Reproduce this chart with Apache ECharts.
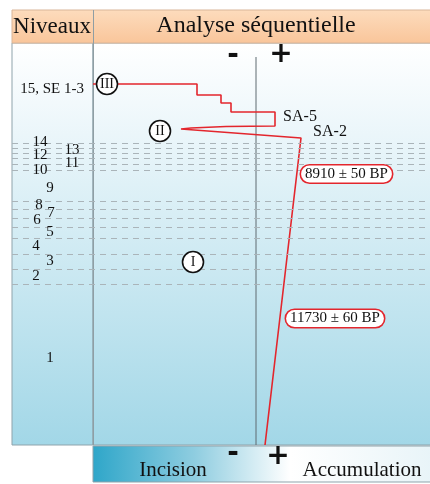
<!DOCTYPE html>
<html>
<head>
<meta charset="utf-8">
<script src="https://cdn.jsdelivr.net/npm/echarts@6/dist/echarts.min.js"></script>
<style>
  html, body { margin: 0; padding: 0; background: #fff; }
  #chart { width: 430px; height: 484px; }
</style>
</head>
<body>
<div id="chart"></div>
<script>
// sequence curve (x: incision - / accumulation +, y: depth, arbitrary units)
const curveX = [-16.3, -5.9, -5.9, -3.5, -3.5, -2.5, -2.5, 1.9, 1.9, -3.0, -6.5, -7.5, 4.5, 0.9]
const curveY = [4.1, 4.1, 5.2, 5.2, 6.0, 6.0, 6.9, 6.9, 8.3, 8.35, 8.5, 8.6, 9.5, 40.2]

// level boundaries (dashed)
const boundaryDepths = [10.0, 10.5, 11.0, 11.5, 12.1, 12.7, 15.8, 16.6, 17.5, 18.4, 19.5, 21.1, 22.6, 24.1]

// level labels
const levelNames = ['15, SE 1-3', '14', '13', '12', '11', '10', '9', '8', '7', '6', '5', '4', '3', '2', '1']
const levelX = [-20.4, -21.6, -18.4, -21.6, -18.4, -21.6, -20.6, -21.7, -20.5, -21.9, -20.6, -22.0, -20.6, -22.0, -20.6]
const levelY = [4.6, 9.9, 10.7, 11.2, 12.0, 12.7, 14.5, 16.2, 17.0, 17.7, 18.9, 20.3, 21.8, 23.3, 31.5]

// phases
const phaseNames = ['III', 'II', 'I']
const phaseX = [-14.9, -9.6, -6.3]
const phaseY = [4.1, 8.8, 21.9]

// sequence boundaries
const saNames = ['SA-5', 'SA-2']
const saX = [4.4, 7.4]
const saY = [7.4, 8.9]

// radiocarbon dates
const dateNames = ['8910 ± 50 BP', '11730 ± 60 BP']
const dateX = [9.05, 7.9]
const dateY = [13.1, 27.55]

const RED = '#e3262d'
const INK = '#111111'
const SERIF = '"Liberation Serif", "DejaVu Serif", serif'
const SIGN = 'bold 28px "DejaVu Sans", sans-serif'

const panelFill = {
  type: 'linear', x: 0, y: 0, x2: 0, y2: 1,
  colorStops: [
    { offset: 0, color: '#ffffff' },
    { offset: 0.15, color: '#f2f9fc' },
    { offset: 1, color: '#a2d7e7' }
  ]
}

const text = (x, y, str, font) => ({
  type: 'text', z: 10, x, y,
  style: { text: str, font, fill: INK, textAlign: 'center', textVerticalAlign: 'middle' }
})

const labelSeries = (name, names, xs, ys, label, extra) => Object.assign({
  name,
  type: 'scatter',
  z: 5,
  symbolSize: 0,
  itemStyle: { opacity: 1 },
  data: names.map((n, i) => ({ value: [xs[i], ys[i]], name: n })),
  label: Object.assign({ show: true, position: 'inside', formatter: '{b}', color: INK, fontFamily: SERIF }, label)
}, extra)

const chart = echarts.init(document.getElementById('chart'))

chart.setOption({
  animation: false,
  grid: { left: 12, right: 0, top: 43, bottom: 39 },
  xAxis: { type: 'value', min: -24.4, max: 17.4, show: false },
  yAxis: { type: 'value', min: 0, max: 40.2, inverse: true, show: false },
  graphic: [
    // panels
    { type: 'rect', z: -10, shape: { x: 12, y: 43, width: 81, height: 402 },
      style: { fill: panelFill, stroke: '#8fa3ab', lineWidth: 1 } },
    { type: 'rect', z: -10, shape: { x: 93, y: 43, width: 340, height: 402 },
      style: { fill: panelFill, stroke: '#8fa3ab', lineWidth: 1 } },
    // header
    { type: 'rect', z: -9, shape: { x: 12, y: 10, width: 420, height: 33 },
      style: {
        fill: { type: 'linear', x: 0, y: 0, x2: 0, y2: 1,
          colorStops: [{ offset: 0, color: '#fddcbd' }, { offset: 1, color: '#f9c59a' }] },
        stroke: '#d9b598', lineWidth: 1
      } },
    { type: 'line', z: -8, shape: { x1: 93.5, y1: 10, x2: 93.5, y2: 445 },
      style: { stroke: '#8f9ea4', lineWidth: 1 } },
    text(52, 27, 'Niveaux', '23px ' + SERIF),
    text(256, 26, 'Analyse séquentielle', '24px ' + SERIF),
    // top - / +
    text(233, 56, '-', SIGN),
    text(281, 55, '+', SIGN),
    // bottom bar
    { type: 'rect', z: -9, shape: { x: 93, y: 446, width: 340, height: 36 },
      style: {
        fill: { type: 'linear', x: 0, y: 0, x2: 1, y2: 0,
          colorStops: [{ offset: 0, color: '#2ea6c9' }, { offset: 0.3, color: '#8fcde0' }, { offset: 0.58, color: '#ffffff' }, { offset: 1, color: '#e8f4f8' }] },
        stroke: '#8fa3ab', lineWidth: 1
      } },
    text(173, 470, 'Incision', '21px ' + SERIF),
    text(362, 470, 'Accumulation', '21px ' + SERIF),
    text(233, 454, '-', SIGN),
    text(278, 457, '+', SIGN)
  ],
  series: [
    {
      name: 'boundaries',
      type: 'line',
      data: [],
      silent: true,
      z: 1,
      markLine: {
        silent: true,
        symbol: ['none', 'none'],
        label: { show: false },
        lineStyle: { color: '#aab4b9', type: [6, 5], width: 1 },
        data: boundaryDepths.map(d => ({ yAxis: d }))
      }
    },
    {
      name: 'axis',
      type: 'line',
      silent: true,
      z: 2,
      showSymbol: false,
      data: [[0, 1.4], [0, 40.2]],
      lineStyle: { color: '#5f6b70', width: 1 }
    },
    {
      name: 'sequence',
      type: 'line',
      z: 3,
      showSymbol: false,
      data: curveX.map((x, i) => [x, curveY[i]]),
      lineStyle: { color: RED, width: 1.6 }
    },
    labelSeries('levels', levelNames, levelX, levelY, { fontSize: 15 }),
    labelSeries('phases', phaseNames, phaseX, phaseY, { fontSize: 14 }, {
      symbol: 'circle',
      symbolSize: 21,
      itemStyle: { color: '#ffffff', borderColor: INK, borderWidth: 1.6, opacity: 1 }
    }),
    labelSeries('sa', saNames, saX, saY, { fontSize: 16 }),
    labelSeries('dates', dateNames, dateX, dateY, {
      fontSize: 15, backgroundColor: '#ffffff', borderColor: RED, borderWidth: 1.6, borderRadius: 9, padding: [1, 4]
    }, { z: 6 })
  ]
})
</script>
</body>
</html>
